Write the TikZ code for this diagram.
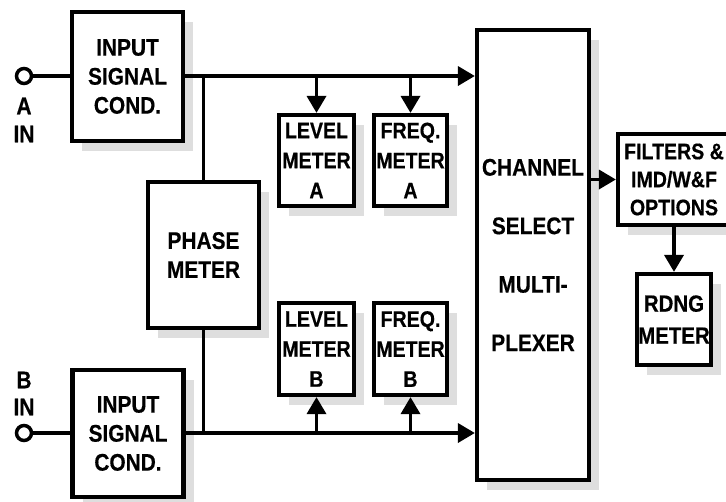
\documentclass[tikz,border=0pt]{standalone}
\usepackage{fontspec}
\newfontfamily\lab{Liberation Sans}[FakeStretch=0.87,FakeBold=0.4]
\usetikzlibrary{arrows.meta,shadows}
\tikzset{
  blk/.style={draw, line width=4.2pt, fill=white, inner sep=0pt, align=center,
    font=\lab\bfseries\fontsize{24}{29}\selectfont,
    drop shadow={shadow xshift=10pt, shadow yshift=-10pt, fill=black!13, opacity=1}},
  meterfont/.style={font=\lab\bfseries\fontsize{22.5}{30}\selectfont},
  wire/.style={line width=3.5pt},
  arr/.style={wire, -{Triangle[length=17pt,width=19pt]}},
  term/.style={circle, draw, line width=3.5pt, fill=white, minimum size=15pt, inner sep=0pt},
  lbl/.style={font=\lab\bfseries\fontsize{24}{29}\selectfont, inner sep=0pt}
}
\begin{document}
\begin{tikzpicture}[x=1pt,y=-1pt]
\useasboundingbox (0,0) rectangle (726,501);
% blocks
\node[blk, minimum width=111pt, minimum height=129pt] (inA) at (127.5,76.5) {INPUT\\SIGNAL\\COND.};
\node[blk, minimum width=111pt, minimum height=127pt] (inB) at (128,433.5) {INPUT\\SIGNAL\\COND.};
\node[blk, minimum width=111pt, minimum height=146pt] (phase) at (203.5,255) {PHASE\\METER};
\node[blk, meterfont, minimum width=75pt, minimum height=91pt] (lvA) at (316.5,160.5) {LEVEL\\METER\\A};
\node[blk, meterfont, minimum width=73pt, minimum height=91pt] (frA) at (410.5,160.5) {FREQ.\\METER\\A};
\node[blk, meterfont, minimum width=75pt, minimum height=92pt] (lvB) at (316.5,349) {LEVEL\\METER\\B};
\node[blk, meterfont, minimum width=73pt, minimum height=92pt] (frB) at (410.5,349) {FREQ.\\METER\\B};
\node[blk, minimum width=112pt, minimum height=450pt,
  font=\lab\bfseries\fontsize{24}{58.5}\selectfont] (mux) at (533,255) {CHANNEL\\SELECT\\MULTI-\\PLEXER};
\node[blk, minimum width=112pt, minimum height=91pt, font=\lab\bfseries\fontsize{22.5}{28}\selectfont] (filt) at (674,179.5) {FILTERS \&\\IMD/W\&F\\OPTIONS};
\node[blk, minimum width=74pt, minimum height=91pt,
  font=\lab\bfseries\fontsize{23.5}{32}\selectfont] (rdng) at (674,319.5) {RDNG\\METER};
% terminals and labels
\node[term] (cA) at (24,76) {};
\node[term] (cB) at (24,433) {};
\node[lbl] (la) at (24,106) {A};
\node[lbl] (lai) at (24,134) {IN};
\node[lbl] (lb) at (24,380) {B};
\node[lbl] (lbi) at (24,407) {IN};
% wires
\draw[wire] (cA.east) -- (cA.east -| inA.west);
\draw[wire] (cB.east) -- (cB.east -| inB.west);
\draw[arr] (inA.east |- cA) -- (mux.west |- cA);
\draw[arr] (inB.east |- cB) -- (mux.west |- cB);
\coordinate (jA) at (phase.north |- cA);
\coordinate (jB) at (phase.south |- cB);
\draw[wire] (jA) -- (phase.north);
\draw[wire] (phase.south) -- (jB);
\draw[arr] (lvA.north |- cA) -- (lvA.north);
\draw[arr] (frA.north |- cA) -- (frA.north);
\draw[arr] (lvB.south |- cB) -- (lvB.south);
\draw[arr] (frB.south |- cB) -- (frB.south);
\draw[arr] (mux.east |- filt.west) -- (filt.west);
\draw[arr] (rdng.north |- filt.south) -- (rdng.north);
\end{tikzpicture}
\end{document}
